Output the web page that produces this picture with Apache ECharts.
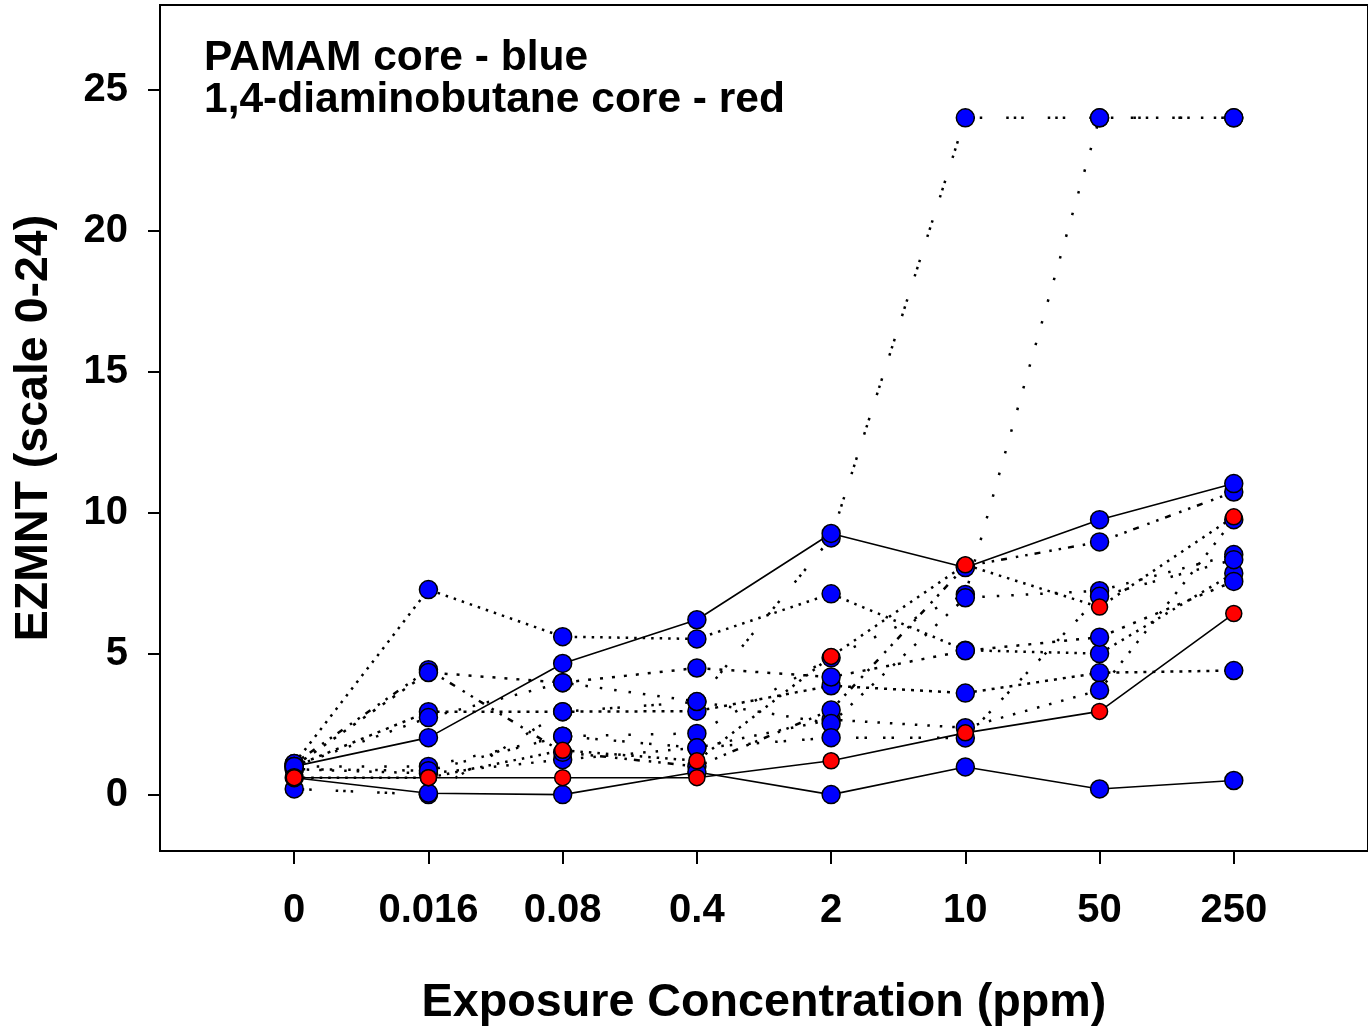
<!DOCTYPE html>
<html>
<head>
<meta charset="utf-8">
<script src="https://cdn.jsdelivr.net/npm/echarts@6/dist/echarts.min.js"></script>
<style>
  html, body { margin: 0; padding: 0; background: #fff; }
  #chart { width: 1368px; height: 1026px; }
</style>
</head>
<body>
<div id="chart"></div>
<script>
// exposure concentrations (ppm), plotted at equal spacing
const categories = ['0', '0.016', '0.08', '0.4', '2', '10', '50', '250']
const yTicks = [0, 5, 10, 15, 20, 25]

// PAMAM core (blue)
const pamamSolidA = [1.0, 2.02, 4.65, 6.2, 9.26, 8.05, 9.75, 11.03]
const pamamSolidB = [0.6, 0.05, 0.0, 0.8, 0.0, 0.98, 0.2, 0.5]
const pamamDotE = [1.1, 7.27, 5.6, 5.52, 7.12, 5.12, 5.0, 7.85]
const pamamDotF = [0.2, 0.0, 2.94, 3.29, 9.1, 24, 24, 24]
const pamamDotG = [1.0, 1.0, 2.07, 2.17, 4.85, 7.1, 24, 24]
const pamamDotH = [1.0, 2.94, 2.94, 2.96, 3.86, 3.6, 4.32, 4.4]
const pamamDotI = [0.9, 0.75, 1.24, 1.66, 2.66, 2.37, 3.7, 9.75]
const pamamDotJ = [1.1, 4.43, 1.5, 1.0, 3.0, 8.1, 8.96, 10.73]
const pamamDotK = [1.0, 2.73, 3.97, 3.3, 2.52, 6.98, 7.23, 8.51]
const pamamDotL = [0.9, 0.85, 2.07, 1.66, 2.02, 2.01, 7.03, 8.33]
const pamamDotM = [1.0, 4.33, 3.97, 4.49, 4.17, 5.1, 5.58, 7.56]

// 1,4-diaminobutane core (red)
const dabSolid = [0.6, 0.6, 0.6, 0.6, 1.2, 2.19, 2.95, 6.42]
const dabDot = [0.6, 0.6, 1.57, 1.2, 4.9, 8.15, 6.65, 9.85]

const FONT = '"Liberation Sans", Arial, sans-serif'

const toPoints = (arr) => arr.map((v, i) => [i, v])

const makeSeries = (name, data, color, dash, size) => ({
    name: name,
    type: 'line',
    data: toPoints(data),
    symbol: 'circle',
    symbolSize: size,
    showSymbol: true,
    animation: false,
    itemStyle: {
        color: color,
        borderColor: '#000',
        borderWidth: 1.5
    },
    lineStyle: {
        color: '#000',
        width: dash === 'solid' ? 1.6 : 2.5,
        type: dash,
        cap: 'butt'
    },
    emphasis: { disabled: true }
})

const BLUE = '#0000ff'
const RED = '#ff0000'

const chart = echarts.init(document.getElementById('chart'))
chart.setOption({
    backgroundColor: '#fff',
    grid: {
        left: 160,
        right: 0,
        top: 5,
        bottom: 175,
        outerBoundsMode: 'none',
        containLabel: false,
        show: true,
        borderColor: '#000',
        borderWidth: 2
    },
    xAxis: {
        type: 'value',
        min: -1,
        max: 8,
        interval: 1,
        name: 'Exposure Concentration (ppm)',
        nameLocation: 'middle',
        nameGap: 129,
        nameTextStyle: { fontFamily: FONT, fontWeight: 'bold', fontSize: 46.7, color: '#000' },
        axisLine: { show: true, onZero: false, lineStyle: { color: '#000', width: 2 } },
        axisTick: {
            show: true,
            inside: false,
            length: 13,
            lineStyle: { color: '#000', width: 2 },
            customValues: categories.map((c, i) => i)
        },
        axisLabel: {
            margin: 40,
            fontFamily: FONT,
            fontWeight: 'bold',
            fontSize: 40,
            color: '#000',
            customValues: categories.map((c, i) => i),
            formatter: (v) => categories[Math.round(v)] ?? ''
        },
        splitLine: { show: false }
    },
    yAxis: {
        type: 'value',
        min: -2,
        max: 28,
        name: 'EZMNT (scale 0-24)',
        nameLocation: 'middle',
        nameGap: 102,
        nameRotate: 90,
        nameTextStyle: { fontFamily: FONT, fontWeight: 'bold', fontSize: 46.5, color: '#000' },
        axisLine: { show: true, onZero: false, lineStyle: { color: '#000', width: 2 } },
        axisTick: {
            show: true,
            length: 12,
            lineStyle: { color: '#000', width: 2 },
            customValues: yTicks
        },
        axisLabel: {
            margin: 32,
            fontFamily: FONT,
            fontWeight: 'bold',
            fontSize: 40,
            color: '#000',
            customValues: yTicks
        },
        splitLine: { show: false }
    },
    graphic: [
        {
            type: 'text',
            left: 204,
            top: 37,
            style: {
                text: 'PAMAM core - blue\n1,4-diaminobutane core - red',
                font: 'bold 42.5px ' + FONT,
                lineHeight: 42,
                fill: '#000'
            }
        }
    ],
    series: [
        makeSeries('E', pamamDotE, BLUE, [2.5, 6], 18),
        makeSeries('F', pamamDotF, BLUE, [2.5, 5, 2.5, 5, 2.5, 24], 18),
        makeSeries('G', pamamDotG, BLUE, [2.5, 20], 18),
        makeSeries('H', pamamDotH, BLUE, [3, 6], 18),
        makeSeries('I', pamamDotI, BLUE, [2.5, 10], 18),
        makeSeries('J', pamamDotJ, BLUE, [2.5, 7, 2.5, 7, 6, 9], 18),
        makeSeries('K', pamamDotK, BLUE, [2.5, 12], 18),
        makeSeries('L', pamamDotL, BLUE, [2.5, 6, 2.5, 16], 18),
        makeSeries('M', pamamDotM, BLUE, [3, 9], 18),
        makeSeries('A', pamamSolidA, BLUE, 'solid', 18),
        makeSeries('C', pamamSolidB, BLUE, 'solid', 18),
        makeSeries('dabDot', dabDot, RED, [2.5, 6], 16),
        makeSeries('dabSolid', dabSolid, RED, 'solid', 16)
    ]
})
</script>
</body>
</html>
